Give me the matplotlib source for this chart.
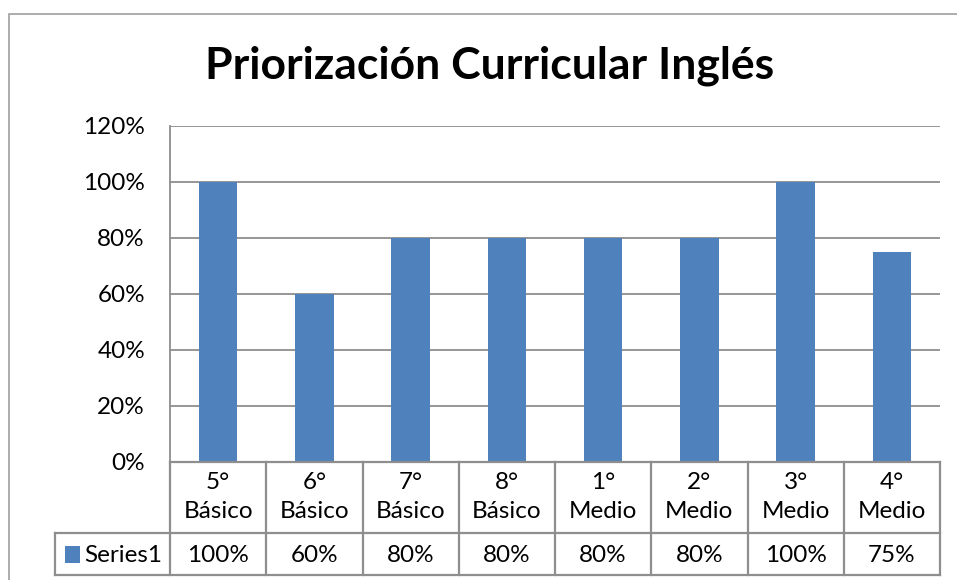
import matplotlib
matplotlib.use("Agg")
import matplotlib.pyplot as plt
from matplotlib.patches import Rectangle
from matplotlib.ticker import FuncFormatter

plt.rcParams['font.family'] = ['Lato', 'DejaVu Sans']

# data
categories = ["5°\nBásico", "6°\nBásico", "7°\nBásico", "8°\nBásico",
              "1°\nMedio", "2°\nMedio", "3°\nMedio", "4°\nMedio"]
values = [1.00, 0.60, 0.80, 0.80, 0.80, 0.80, 1.00, 0.75]
value_labels = ["100%", "60%", "80%", "80%", "80%", "80%", "100%", "75%"]
series_name = "Series1"
title = "Priorización Curricular Inglés"

W, H = 957, 580
bar_color = "#4F81BD"
line_color = "#8E8E8E"
fs = 17.5

fig = plt.figure(figsize=(W / 100, H / 100), dpi=100)

# outer chart frame (cropped on right/bottom like the reference)
fig.patches.append(Rectangle((9 / W, -0.1), 1.2, (H - 14) / H + 0.1,
                             transform=fig.transFigure, fill=False,
                             edgecolor="#A6A6A6", linewidth=1.3))

fig.text(490 / W, 1 - 66 / H, title, ha="center", va="center",
         fontsize=32, fontweight="bold")

# plot area
ax = fig.add_axes([170 / W, (H - 462) / H, 770 / W, 336 / H])
x = range(len(values))
ax.bar(x, values, width=0.4, color=bar_color, zorder=3)
ax.set_xlim(-0.5, len(values) - 0.5)
ax.set_ylim(0, 1.2)
ax.set_yticks([0, 0.2, 0.4, 0.6, 0.8, 1.0, 1.2])
ax.yaxis.set_major_formatter(FuncFormatter(lambda v, p: f"{v * 100:.0f}%"))
ax.tick_params(axis="y", length=0, pad=18, labelsize=fs)
ax.set_xticks([])
ax.grid(axis="y", color=line_color, linewidth=1.3, zorder=0)
for s in ["top", "right", "bottom"]:
    ax.spines[s].set_visible(False)
ax.spines["left"].set_color(line_color)
ax.spines["left"].set_linewidth(1.3)

# data table below the plot
tax = fig.add_axes([170 / W, (H - 575) / H, 770 / W, 113 / H])
tax.set_xlim(-0.5, len(values) - 0.5)
tax.set_ylim(0, 113)
tax.axis("off")
n = len(values)
left = -0.5 - 115 / 96.25
lw = 1.6
kw = dict(color=line_color, linewidth=lw, clip_on=False, solid_capstyle="projecting")
tax.plot([-0.5, n - 0.5], [113, 113], **kw)
tax.plot([left, n - 0.5], [42, 42], **kw)
tax.plot([left, n - 0.5], [0, 0], **kw)
tax.plot([left, left], [0, 42], **kw)
for k in range(n + 1):
    tax.plot([k - 0.5, k - 0.5], [0, 113], **kw)

for i, (cat, lab) in enumerate(zip(categories, value_labels)):
    tax.text(i, 78, cat, ha="center", va="center", fontsize=fs, linespacing=1.45)
    tax.text(i, 20, lab, ha="center", va="center", fontsize=fs)

tax.add_patch(Rectangle((left + 0.1, 12), 0.16, 17, facecolor=bar_color,
                        edgecolor="none", clip_on=False))
tax.text(left + 0.3, 20, series_name, ha="left", va="center", fontsize=fs)

fig.savefig("out.png", dpi=100)
